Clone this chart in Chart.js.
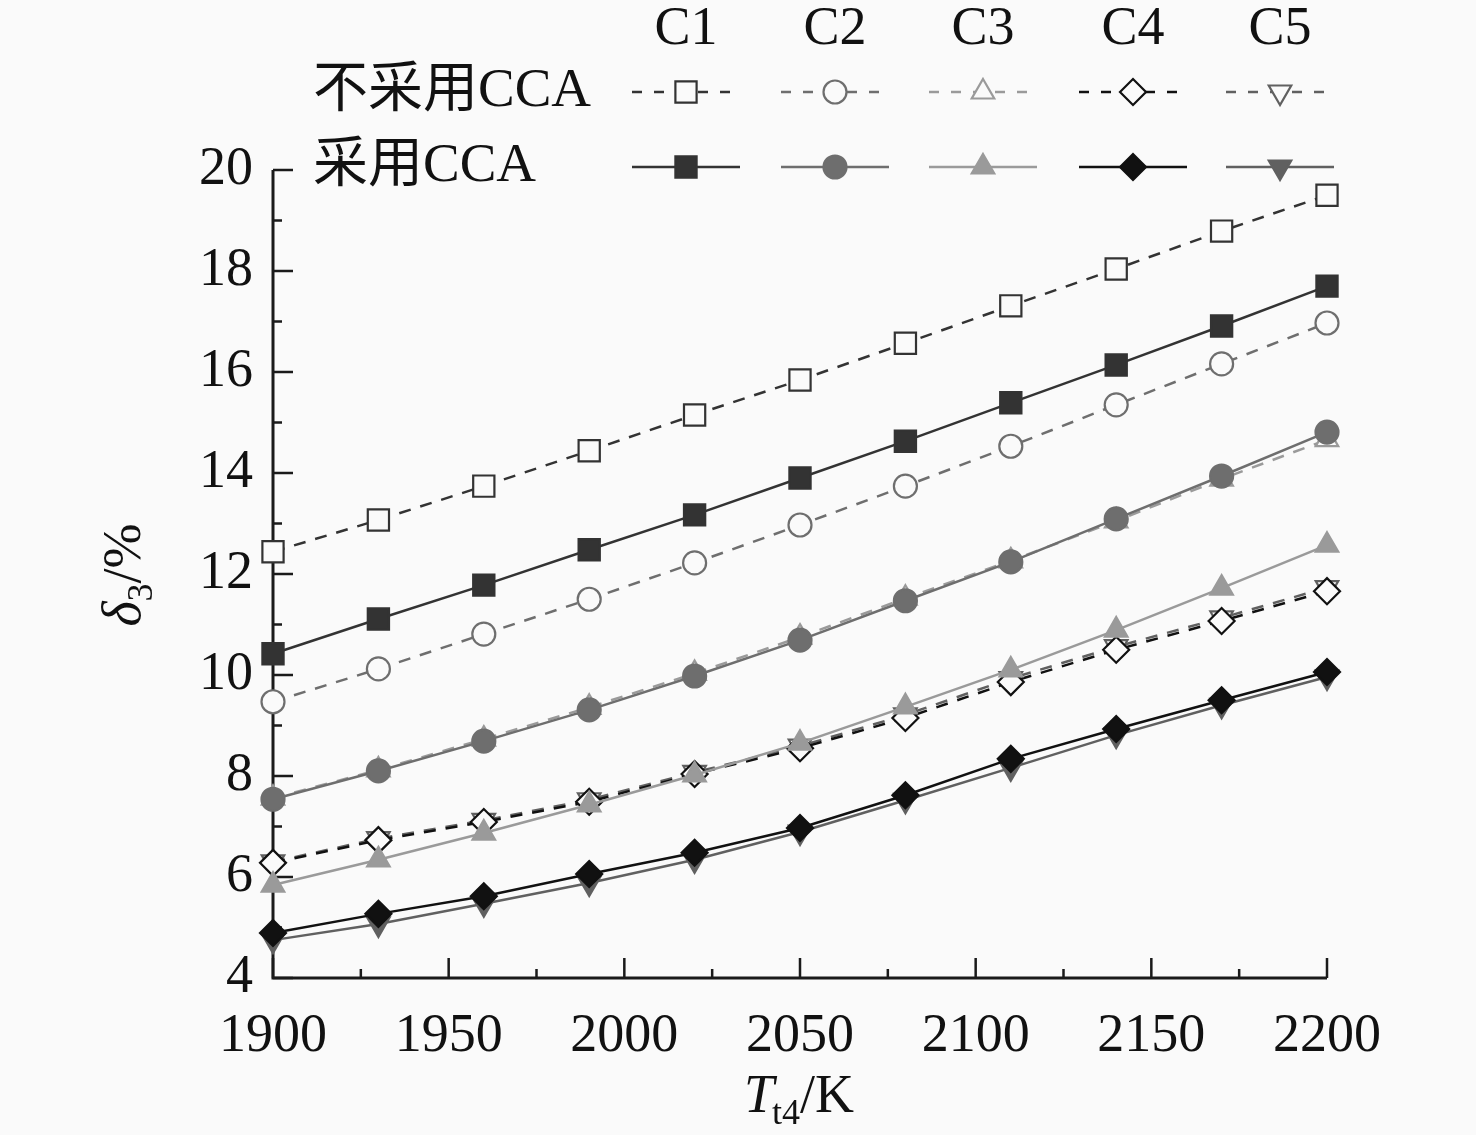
<!DOCTYPE html>
<html>
<head>
<meta charset="utf-8">
<script src="https://cdn.jsdelivr.net/npm/chart.js@4/dist/chart.umd.min.js"></script>
<style>
  body { margin: 0; background: #fafafa; }
  #wrap { width: 1476px; height: 1135px; }
</style>
</head>
<body>
<div id="wrap"><canvas id="chart" width="1476" height="1135"></canvas></div>
<script>
// T_t4 / K
const temps = [1900, 1930, 1960, 1990, 2020, 2050, 2080, 2110, 2140, 2170, 2200];
const xTicks = [1900, 1950, 2000, 2050, 2100, 2150, 2200];
const yTicks = [4, 6, 8, 10, 12, 14, 16, 18, 20];
const cases = ['C1', 'C2', 'C3', 'C4', 'C5'];

// delta_3 / %, without CCA
const c1NoCCA = [12.44, 13.07, 13.74, 14.44, 15.15, 15.84, 16.57, 17.31, 18.04, 18.79, 19.50];
const c2NoCCA = [9.47, 10.12, 10.81, 11.50, 12.22, 12.97, 13.74, 14.53, 15.35, 16.16, 16.97];
const c3NoCCA = [7.56, 8.12, 8.73, 9.36, 10.03, 10.75, 11.52, 12.26, 13.05, 13.88, 14.66];
const c4NoCCA = [6.28, 6.73, 7.09, 7.49, 8.04, 8.55, 9.15, 9.86, 10.50, 11.07, 11.66];
const c5NoCCA = [6.30, 6.76, 7.12, 7.53, 8.07, 8.59, 9.21, 9.93, 10.56, 11.13, 11.73];

// delta_3 / %, with CCA
const c1CCA = [10.42, 11.11, 11.78, 12.48, 13.17, 13.90, 14.63, 15.39, 16.14, 16.91, 17.70];
const c2CCA = [7.54, 8.10, 8.69, 9.31, 9.98, 10.69, 11.47, 12.24, 13.09, 13.94, 14.81];
const c3CCA = [5.84, 6.34, 6.87, 7.43, 8.02, 8.65, 9.37, 10.10, 10.89, 11.72, 12.57];
const c4CCA = [4.89, 5.27, 5.62, 6.06, 6.48, 6.97, 7.62, 8.34, 8.93, 9.50, 10.06];
const c5CCA = [4.75, 5.07, 5.47, 5.88, 6.34, 6.89, 7.52, 8.16, 8.81, 9.40, 9.96];

const colors = ['#333333', '#6e6e6e', '#9a9a9a', '#111111', '#606060'];
const styles = [
  { pointStyle: 'rect', radius: 15, rotation: 0 },
  { pointStyle: 'circle', radius: 11.5, rotation: 0 },
  { pointStyle: 'triangle', radius: 13, rotation: 0 },
  { pointStyle: 'rectRot', radius: 13, rotation: 0 },
  { pointStyle: 'triangle', radius: 13, rotation: 180 }
];

const serif = '"Liberation Serif", "Noto Sans CJK SC", serif';

const toPoints = arr => temps.map((t, i) => ({ x: t, y: arr[i] }));

function makeSet(label, values, idx, filled) {
  const s = styles[idx];
  return {
    label: label,
    data: toPoints(values),
    borderColor: colors[idx],
    borderWidth: 2.5,
    borderDash: filled ? [] : [12, 10],
    pointStyle: s.pointStyle,
    pointRadius: s.radius,
    pointRotation: s.rotation,
    pointBackgroundColor: filled ? colors[idx] : '#fafafa',
    pointBorderColor: colors[idx],
    pointBorderWidth: 2.2,
    tension: 0,
    fill: false,
    clip: false
  };
}

const datasets = [
  makeSet('C4 采用CCA', c4CCA, 3, true),
  makeSet('C5 采用CCA', c5CCA, 4, true),
  makeSet('C1 采用CCA', c1CCA, 0, true),
  makeSet('C2 采用CCA', c2CCA, 1, true),
  makeSet('C3 采用CCA', c3CCA, 2, true),
  makeSet('C1 不采用CCA', c1NoCCA, 0, false),
  makeSet('C2 不采用CCA', c2NoCCA, 1, false),
  makeSet('C3 不采用CCA', c3NoCCA, 2, false),
  makeSet('C4 不采用CCA', c4NoCCA, 3, false),
  makeSet('C5 不采用CCA', c5NoCCA, 4, false)
];

// background
const bgPlugin = {
  id: 'bg',
  beforeDraw(chart) {
    const ctx = chart.ctx;
    ctx.save();
    ctx.fillStyle = '#fafafa';
    ctx.fillRect(0, 0, chart.width, chart.height);
    ctx.restore();
  }
};

// axis lines, inward ticks, axis titles and the legend table
const decoPlugin = {
  id: 'deco',
  beforeDatasetsDraw(chart) {
    const ctx = chart.ctx;
    const a = chart.chartArea;
    const xs = chart.scales.x, ys = chart.scales.y;
    ctx.save();
    ctx.strokeStyle = '#1a1a1a';
    ctx.lineWidth = 3;
    ctx.beginPath();
    ctx.moveTo(a.left, a.top);
    ctx.lineTo(a.left, a.bottom);
    ctx.lineTo(a.right, a.bottom);
    ctx.stroke();

    ctx.lineWidth = 2.5;
    ctx.beginPath();
    for (let v = 1900; v <= 2200; v += 25) {
      const px = xs.getPixelForValue(v);
      const len = v % 50 === 0 ? 20 : 9;
      ctx.moveTo(px, a.bottom);
      ctx.lineTo(px, a.bottom - len);
    }
    for (let v = 4; v <= 20; v += 1) {
      const py = ys.getPixelForValue(v);
      const len = v % 2 === 0 ? 20 : 9;
      ctx.moveTo(a.left, py);
      ctx.lineTo(a.left + len, py);
    }
    ctx.stroke();
    ctx.restore();
  },
  afterDraw(chart) {
    const ctx = chart.ctx;
    ctx.save();

    // y title: δ3/%
    ctx.fillStyle = '#111';
    ctx.save();
    ctx.translate(140, 575);
    ctx.rotate(-Math.PI / 2);
    ctx.textBaseline = 'alphabetic';
    ctx.font = 'italic 54px ' + serif;
    const dW = ctx.measureText('δ').width;
    ctx.font = '36px ' + serif;
    const sW = ctx.measureText('3').width;
    ctx.font = '54px ' + serif;
    const pW = ctx.measureText('/%').width;
    let x0 = -(dW + sW + pW) / 2;
    ctx.font = 'italic 54px ' + serif;
    ctx.fillText('δ', x0, 0);
    ctx.font = '36px ' + serif;
    ctx.fillText('3', x0 + dW, 12);
    ctx.font = '54px ' + serif;
    ctx.fillText('/%', x0 + dW + sW, 0);
    ctx.restore();

    // x title: Tt4/K
    ctx.font = 'italic 54px ' + serif;
    const tW = ctx.measureText('T').width;
    ctx.font = '36px ' + serif;
    const t4W = ctx.measureText('t4').width;
    ctx.font = '54px ' + serif;
    const kW = ctx.measureText('/K').width;
    x0 = 800 - (tW + t4W + kW) / 2;
    const base = 1112;
    ctx.font = 'italic 54px ' + serif;
    ctx.fillText('T', x0, base);
    ctx.font = '36px ' + serif;
    ctx.fillText('t4', x0 + tW - 2, base + 12);
    ctx.font = '54px ' + serif;
    ctx.fillText('/K', x0 + tW + t4W - 2, base);

    // legend table
    const cols = [686, 835, 983, 1133, 1280];
    const rowNo = 92, rowYes = 167;
    ctx.font = '54px ' + serif;
    ctx.textAlign = 'center';
    ctx.textBaseline = 'middle';
    cases.forEach((c, i) => ctx.fillText(c, cols[i], 30));
    ctx.textAlign = 'left';
    ctx.font = '55px ' + serif;
    ctx.fillText('不采用CCA', 313, rowNo);
    ctx.fillText('采用CCA', 313, rowYes);

    const draw = (i, y, filled) => {
      const s = styles[i];
      ctx.strokeStyle = colors[i];
      ctx.lineWidth = 2.5;
      ctx.setLineDash(filled ? [] : [10, 12]);
      ctx.beginPath();
      ctx.moveTo(cols[i] - 54, y);
      ctx.lineTo(cols[i] + 54, y);
      ctx.stroke();
      ctx.setLineDash([]);
      ctx.fillStyle = filled ? colors[i] : '#fafafa';
      ctx.lineWidth = 2.2;
      Chart.helpers.drawPoint(ctx, {
        pointStyle: s.pointStyle,
        radius: s.radius,
        rotation: s.rotation,
        borderWidth: 2.2
      }, cols[i], y);
    };
    cases.forEach((c, i) => { draw(i, rowNo, false); draw(i, rowYes, true); });
    ctx.restore();
  }
};

new Chart(document.getElementById('chart').getContext('2d'), {
  type: 'line',
  data: { datasets: datasets },
  options: {
    responsive: false,
    animation: false,
    layout: { padding: { top: 170, right: 149, left: 0, bottom: 0 } },
    plugins: {
      legend: { display: false },
      tooltip: { enabled: false }
    },
    scales: {
      x: {
        type: 'linear',
        min: 1900,
        max: 2200,
        grid: { display: false, drawTicks: false },
        border: { display: false },
        afterBuildTicks: s => { s.ticks = xTicks.map(v => ({ value: v })); },
        afterFit: s => { s.height = 157; },
        ticks: {
          padding: 26,
          color: '#111',
          maxRotation: 0,
          font: { family: serif, size: 54 },
          callback: v => String(v)
        }
      },
      y: {
        type: 'linear',
        min: 4,
        max: 20,
        grid: { display: false, drawTicks: false },
        border: { display: false },
        afterBuildTicks: s => { s.ticks = yTicks.map(v => ({ value: v })); },
        afterFit: s => { s.width = 273; },
        ticks: {
          padding: 20,
          color: '#111',
          font: { family: serif, size: 54 },
          callback: v => String(v)
        }
      }
    }
  },
  plugins: [bgPlugin, decoPlugin]
});
</script>
</body>
</html>
